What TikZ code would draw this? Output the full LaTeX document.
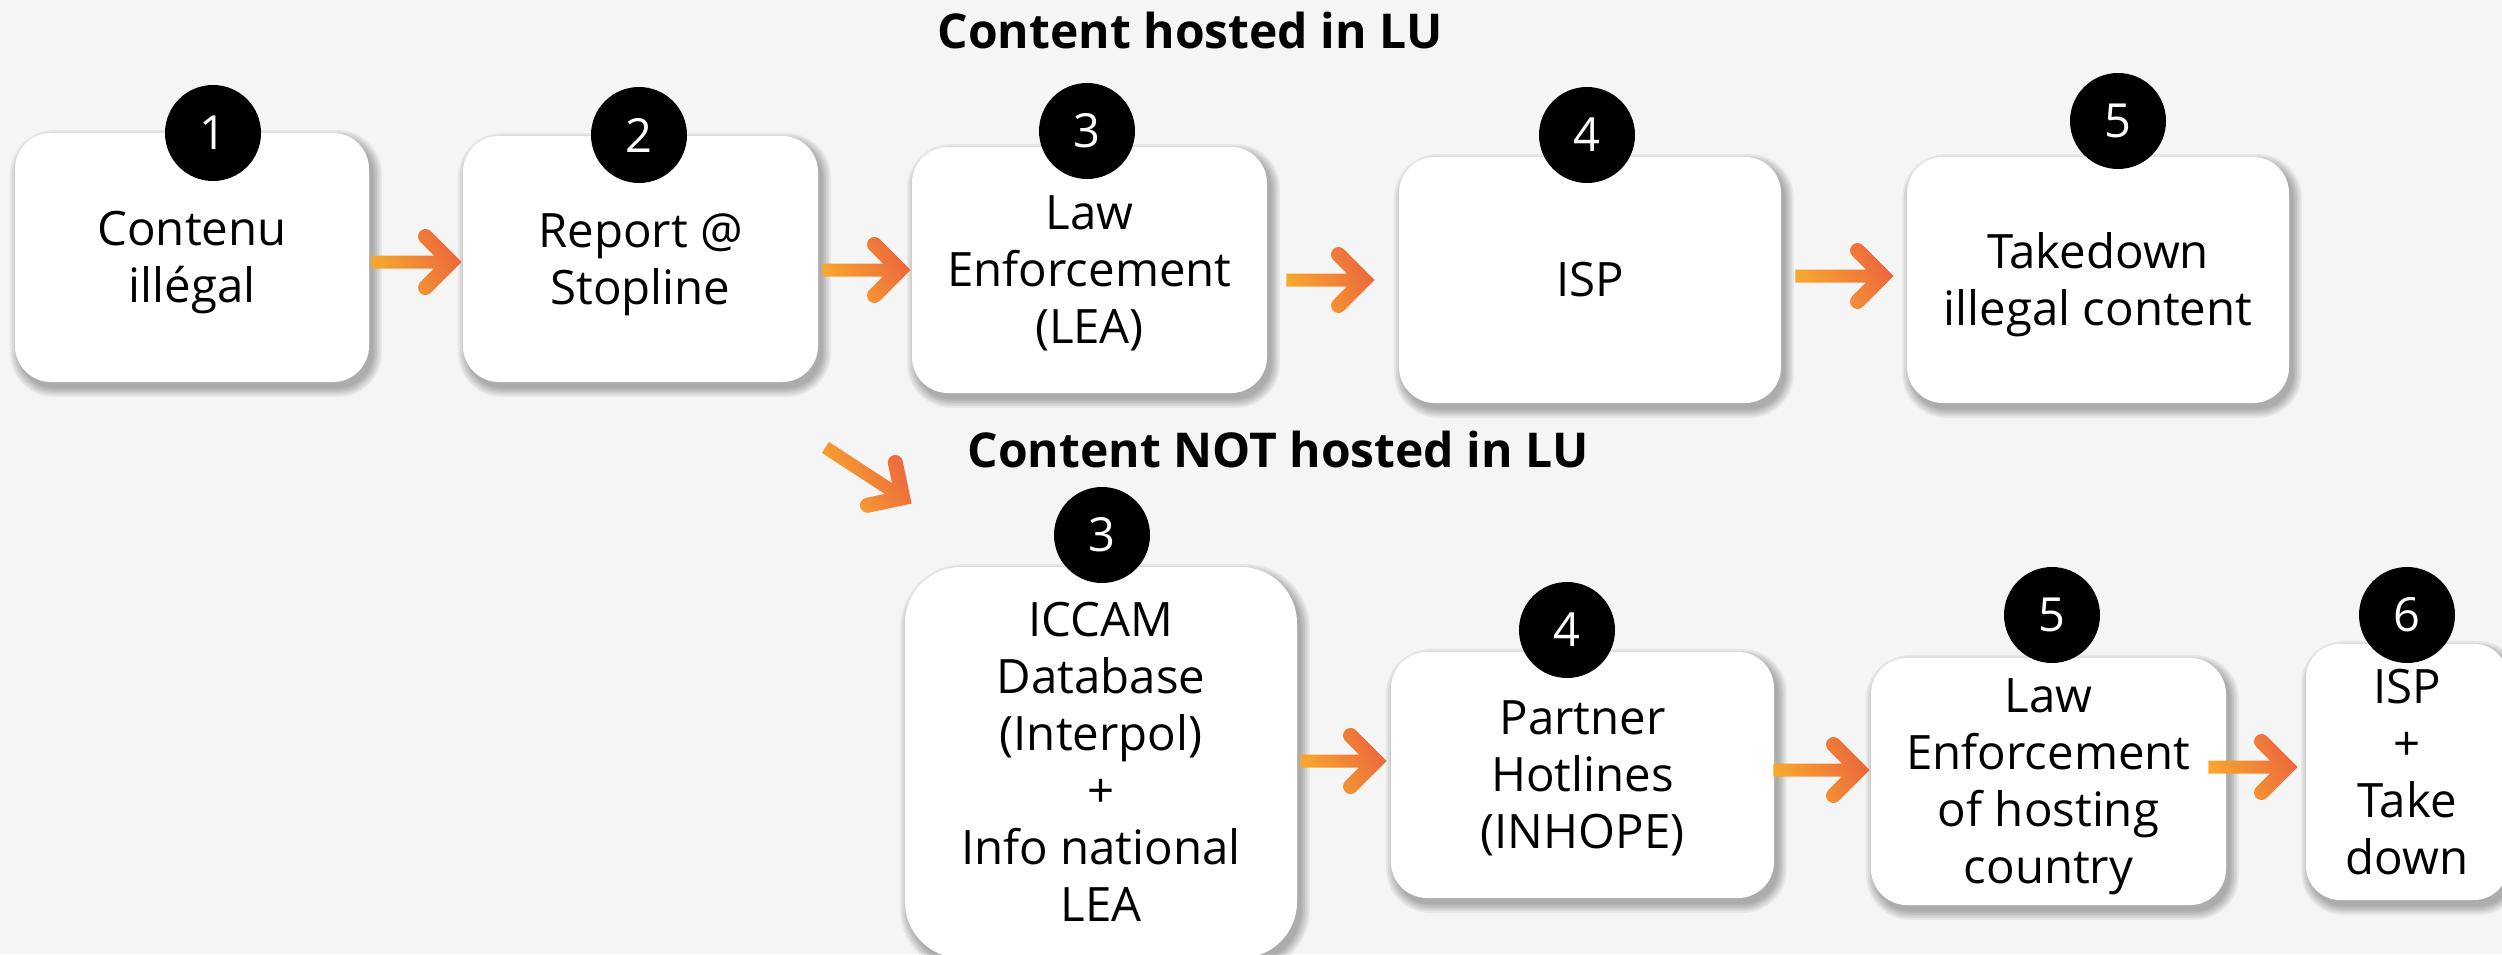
\documentclass[tikz,border=0pt]{standalone}
\usepackage{fontspec}
\setmainfont{Open Sans}
\usetikzlibrary{calc}
\definecolor{bgc}{HTML}{F5F5F5}
\definecolor{arrY}{HTML}{F7A92E}
\definecolor{arrR}{HTML}{EC673D}
\pgfdeclarelayer{bglayer}
\pgfdeclarelayer{shadowlayer}
\pgfsetlayers{bglayer,shadowlayer,main}
\newcommand\bodyfont{\fontsize{23.7pt}{28.5pt}\selectfont}
\newcommand\numfont{\fontsize{23.5pt}{28pt}\selectfont}
\newcommand\titlefont{\fontsize{24pt}{29pt}\selectfont\bfseries}
% text block centred between first cap top and last baseline
\newcommand\bt[1]{\raisebox{0pt}[\dimexpr\height-3.03pt\relax][0pt]{\begin{tabular}[b]{@{}c@{}}#1\end{tabular}}}
\tikzset{
  stepbox/.style={fill=white, rounded corners=18pt, inner sep=0pt, font=\bodyfont, text=black},
  numdot/.style={circle, fill=black, minimum size=48pt, inner sep=0pt, text=white, font=\numfont},
  titletext/.style={anchor=base, font=\titlefont, inner sep=0pt, text=black},
  arrowfill/.style={left color=arrY, right color=arrR, shading angle=118},
}
% soft shadow behind a node: #1 node name, #2 corner radius (pt)
\newcommand\boxshadow[2]{%
  \begin{pgfonlayer}{shadowlayer}
  \foreach \k in {0,...,5}{%
    \pgfmathsetmacro\shr{#2+\k*0.8}%
    \fill[black, opacity=0.055, rounded corners=\shr pt]
      ($(#1.south west)+(4-\k*1.7, 6+\k*1.7)$) rectangle ($(#1.north east)+(4+\k*1.7, 6-\k*1.7)$);
  }%
  \end{pgfonlayer}}
% gradient arrow from #1 to #2
\newcommand\garrow[2]{%
  \path (#1) coordinate (ga-s) (#2) coordinate (ga-e);
  \pgfpointdiff{\pgfpointanchor{ga-s}{center}}{\pgfpointanchor{ga-e}{center}}%
  \pgfgetlastxy\gadx\gady
  \pgfmathsetmacro\galen{veclen(\gadx,\gady)}%
  \pgfmathsetmacro\gaang{atan2(\gady,\gadx)}%
  \pgfmathsetmacro\gaV{\galen-5.3}%
  \def\gat{3.25}\def\gaq{2.65}\def\gah{12.75}\def\gac{5.3}\def\gaw{3.75}%
  \begin{scope}[shift={(ga-s)}, rotate=\gaang, x=1pt, y=1pt]
    \shade[arrowfill]
      (0,-\gat) -- (\gaV,-\gat) -- (\gaV,\gat) -- (0,\gat) -- cycle
      (\gaV-\gaq,-\gaq) -- (\gaV+\gaq,\gaq) -- (\gaV-\gah+\gaq,\gah+\gaq) -- (\gaV-\gah-\gaq,\gah-\gaq) -- cycle
      (\gaV-\gah+\gaq,-\gah-\gaq) -- (\gaV+\gaq,-\gaq) -- (\gaV-\gaq,\gaq) -- (\gaV-\gah-\gaq,-\gah+\gaq) -- cycle
      (\gaV+\gac,0) -- (\gaV,\gac) -- (\gaV-\gac,0) -- (\gaV,-\gac) -- cycle
      (\gaV-\gah,\gah) circle[radius=\gaw]
      (\gaV-\gah,-\gah) circle[radius=\gaw];
  \end{scope}}
\begin{document}
\begin{tikzpicture}[x=0.5pt, y=-0.5pt]
\begin{pgfonlayer}{bglayer}
  \fill[bgc] (0,0) rectangle (2502,954);
\end{pgfonlayer}
\useasboundingbox (0,0) rectangle (2502,954);

% titles
\node[titletext] (t1) at (1190,48) {Content hosted in LU};
\node[titletext] (t2) at (1278,467) {Content NOT hosted in LU};

% top row
\node[stepbox, minimum width=177pt, minimum height=124.5pt] (b1) at (192,257.5) {\bt{Contenu\\illégal}};
\node[stepbox, minimum width=177.5pt, minimum height=123pt] (b2) at (640.5,259) {\bt{Report @\\Stopline}};
\node[stepbox, minimum width=177.5pt, minimum height=123pt] (b3) at (1089.5,270) {\bt{Law\\Enforcement\\(LEA)}};
\node[stepbox, minimum width=191pt, minimum height=123pt] (b4) at (1590,280) {\bt{ISP}};
\node[stepbox, minimum width=191pt, minimum height=123pt] (b5) at (2098,280) {\bt{Takedown\\illegal content}};

% bottom row
\node[stepbox, rounded corners=28pt, minimum width=196pt, minimum height=195.5pt] (c3) at (1101,762.5) {\bt{ICCAM\\Database\\(Interpol)\\+\\Info national\\LEA}};
\node[stepbox, minimum width=191.5pt, minimum height=123pt] (c4) at (1582.5,775) {\bt{Partner\\Hotlines\\(INHOPE)}};
\node[stepbox, minimum width=177.5pt, minimum height=123.5pt] (c5) at (2048.5,781.5) {\bt{Law\\Enforcement\\of hosting\\country}};
\node[stepbox, rounded corners=17pt, minimum width=101pt, minimum height=128pt] (c6) at (2407,772) {\bt{ISP\\+\\Take\\down}};

\boxshadow{b1}{18}\boxshadow{b2}{18}\boxshadow{b3}{18}\boxshadow{b4}{18}\boxshadow{b5}{18}
\boxshadow{c3}{28}\boxshadow{c4}{18}\boxshadow{c5}{18}\boxshadow{c6}{17}

% number dots
\node[numdot] (n1) at (213,133) {1};
\node[numdot] (n2) at (639,135) {2};
\node[numdot] (n3) at (1087,131) {3};
\node[numdot] (n4) at (1587,135) {4};
\node[numdot] (n5) at (2118,121) {5};
\node[numdot] (m3) at (1102,535) {3};
\node[numdot] (m4) at (1567,630) {4};
\node[numdot] (m5) at (2052,615) {5};
\node[numdot] (m6) at (2407,615) {6};

% arrows
\garrow{$(b1.east)+(2,4.5)$}{$(b2.west)+(-1,3)$}
\garrow{$(b2.east)+(4,11)$}{$(b3.west)+(-1,0)$}
\garrow{$(b3.east)+(19,10)$}{$(b4.west)+(-24,0)$}
\garrow{$(b4.east)+(14,-4)$}{$(b5.west)+(-13,-4)$}
\garrow{$(b2.south east)+(7,65)$}{$(c3.north west)+(7,-63)$}
\garrow{$(c3.east)+(3,-1.5)$}{$(c4.west)+(-4,-14)$}
\garrow{$(c4.east)+(-1,-5)$}{$(c5.west)+(-1,-11.5)$}
\garrow{$(c5.east)+(-18,-14.5)$}{$(c6.west)+(-8,-5)$}
\end{tikzpicture}
\end{document}
